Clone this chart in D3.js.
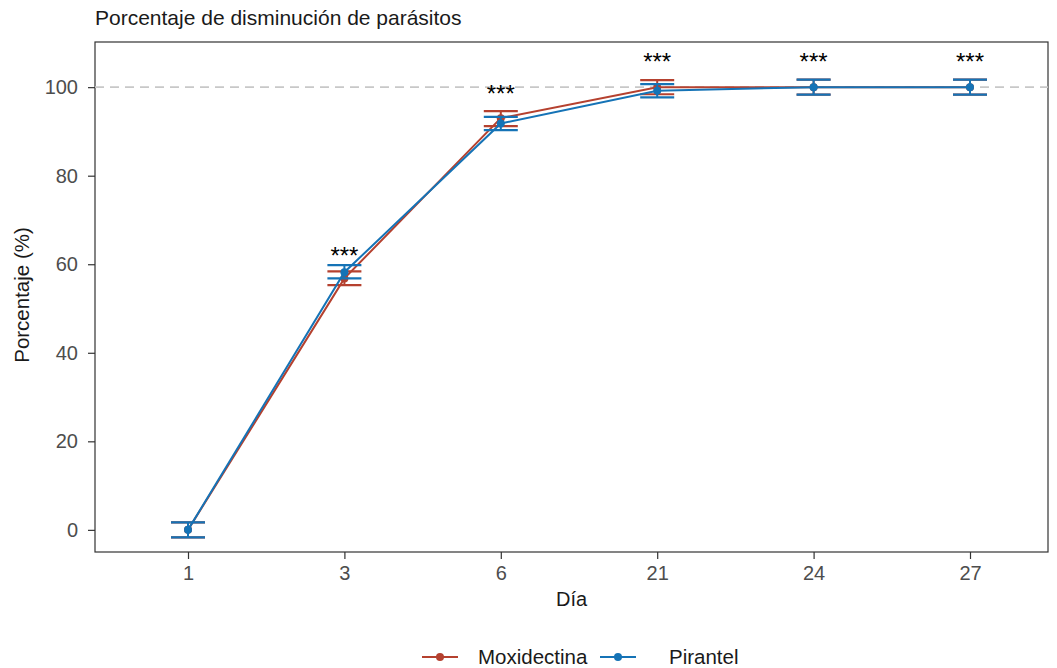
<!DOCTYPE html>
<html><head><meta charset="utf-8">
<script src="https://cdn.jsdelivr.net/npm/d3@7"></script>
<style>body{margin:0;background:#fff;font-family:"Liberation Sans",Arial,sans-serif}</style>
</head><body><svg id="c" width="1057" height="668"></svg>
<script>
const days = ["1","3","6","21","24","27"];
const moxMean = [0, 56.8, 93.0, 100, 100, 100];
const moxLow  = [-1.7, 55.3, 91.2, 98.4, 98.3, 98.3];
const moxHigh = [1.7, 58.4, 94.6, 101.6, 101.7, 101.7];
const pirMean = [0, 58.2, 91.8, 99.2, 100, 100];
const pirLow  = [-1.7, 56.8, 90.3, 97.7, 98.3, 98.3];
const pirHigh = [1.7, 59.8, 93.3, 100.7, 101.7, 101.7];
const starDays = ["3","6","21","24","27"];
const starY = [63.0, 99.6, 106.7, 106.7, 106.7];
const yTicks = [0,20,40,60,80,100];

const svg = d3.select("#c");
const L=95, R=1048, T=42, B=552;
const x = d3.scalePoint().domain(days).range([188,970]);
const y = d3.scaleLinear().domain([-5,110.2]).range([B,T]);
const red="#B5412F", blue="#1573B6";

svg.append("rect").attr("x",L).attr("y",T).attr("width",R-L).attr("height",B-T)
  .attr("fill","none").attr("stroke","#333").attr("stroke-width",1.2);

svg.append("line").attr("x1",L).attr("x2",R).attr("y1",y(100)).attr("y2",y(100))
  .attr("stroke","#c8c8c8").attr("stroke-width",1.8).attr("stroke-dasharray","9,6");

const yAxis = svg.append("g").attr("transform",`translate(${L},0)`)
  .call(d3.axisLeft(y).tickValues(yTicks).tickSize(7).tickPadding(10));
const xAxis = svg.append("g").attr("transform",`translate(0,${B})`)
  .call(d3.axisBottom(x).tickSize(7).tickPadding(7));
[yAxis,xAxis].forEach(a=>{
  a.select(".domain").remove();
  a.selectAll("line").attr("stroke","#333").attr("stroke-width",1.2);
  a.selectAll("text").attr("fill","#4d4d4d").style("font-size","20px").style("font-family","Liberation Sans, Arial, sans-serif");
});

function series(mean, lo, hi, col){
  const g = svg.append("g");
  const line = d3.line().x((d,i)=>x(days[i])).y(d=>y(d));
  g.append("path").datum(mean).attr("d",line).attr("fill","none").attr("stroke",col).attr("stroke-width",2);
  const cw=17;
  days.forEach((d,i)=>{
    const cx=x(d);
    g.append("line").attr("x1",cx).attr("x2",cx).attr("y1",y(lo[i])).attr("y2",y(hi[i])).attr("stroke",col).attr("stroke-width",2);
    [lo[i],hi[i]].forEach(v=>g.append("line").attr("x1",cx-cw).attr("x2",cx+cw).attr("y1",y(v)).attr("y2",y(v)).attr("stroke",col).attr("stroke-width",2.2));
    g.append("circle").attr("cx",cx).attr("cy",y(mean[i])).attr("r",4).attr("fill",col);
  });
}
series(moxMean,moxLow,moxHigh,red);
series(pirMean,pirLow,pirHigh,blue);

svg.selectAll("text.star").data(starDays).enter().append("text").attr("class","star")
  .attr("x",d=>x(d)).attr("y",(d,i)=>y(starY[i])+13).attr("text-anchor","middle")
  .style("font-size","24px").attr("fill","#000").text("***");

svg.append("text").attr("x",95).attr("y",25).style("font-size","21px").attr("fill","#1a1a1a").text("Porcentaje de disminución de parásitos");
svg.append("text").attr("x",(L+R)/2).attr("y",606).attr("text-anchor","middle").style("font-size","20px").attr("fill","#1a1a1a").text("Día");
svg.append("text").attr("transform",`translate(29,295) rotate(-90)`).attr("text-anchor","middle").style("font-size","20.5px").attr("fill","#1a1a1a").text("Porcentaje (%)");

const legend=[["Moxidectina",red,422,478],["Pirantel",blue,600,669]];
legend.forEach(([n,c,lx,tx])=>{
  const ly=657;
  svg.append("line").attr("x1",lx).attr("x2",lx+36).attr("y1",ly).attr("y2",ly).attr("stroke",c).attr("stroke-width",2);
  svg.append("circle").attr("cx",lx+18).attr("cy",ly).attr("r",4).attr("fill",c);
  svg.append("text").attr("x",tx).attr("y",ly+7).style("font-size","20.5px").attr("fill","#1a1a1a").text(n);
});
</script></body></html>
